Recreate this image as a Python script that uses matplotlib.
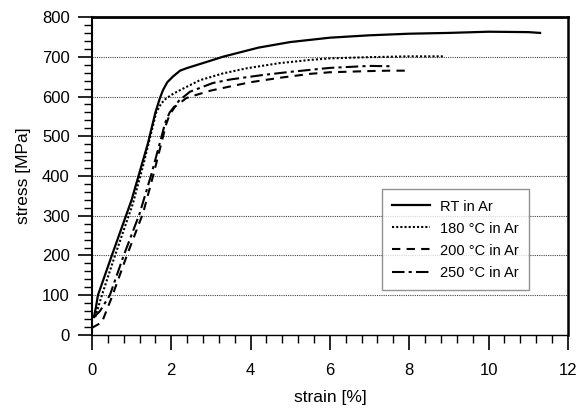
import matplotlib

matplotlib.use("Agg")
import matplotlib.pyplot as plt
from matplotlib.ticker import MultipleLocator

plt.rcParams["font.family"] = ["Liberation Sans", "DejaVu Sans"]

# stress-strain curves (strain in %, stress in MPa)
RT_STRAIN = [0.05, 0.1, 0.15, 0.5, 1.0, 1.41, 1.6, 1.71, 1.79, 1.9, 2.04, 2.22, 2.38,
             3.05, 3.3, 4.2, 5.0, 6.0, 7.0, 8.0, 9.0, 10.0, 11.0, 11.3]
RT_STRESS = [45, 70, 100, 200, 340, 482, 560, 595, 616, 636, 650, 665, 671,
             692, 700, 723, 737, 748, 754, 758, 760, 763, 762, 760]

T180_STRAIN = [0.08, 0.25, 0.58, 1.03, 1.3, 1.62, 1.75, 1.87, 2.05, 2.22, 2.72, 3.3,
               3.9, 4.73, 5.5, 6.0, 7.0, 8.0, 8.9]
T180_STRESS = [45, 100, 200, 330, 430, 560, 583, 595, 607, 616, 641, 658,
               671, 684, 692, 696, 699, 701, 701]

T200_STRAIN = [0.0, 0.25, 0.5, 0.88, 1.29, 1.54, 1.87, 1.96, 2.1, 2.38, 2.63, 3.0,
               3.47, 4.0, 4.73, 5.5, 6.0, 7.0, 7.5, 8.0]
T200_STRESS = [18, 32, 95, 200, 307, 400, 530, 555, 575, 596, 604, 615,
               625, 636, 647, 657, 661, 664, 665, 665]

T250_STRAIN = [0.05, 0.2, 0.45, 0.8, 1.2, 1.5, 1.85, 1.96, 2.2, 2.47, 3.05, 3.5,
               4.3, 5.0, 6.0, 7.0, 7.6]
T250_STRESS = [45, 60, 100, 200, 305, 405, 535, 560, 590, 612, 634, 643,
               654, 662, 672, 677, 676]

LABELS = ["RT in Ar", "180 °C in Ar", "200 °C in Ar", "250 °C in Ar"]

fig = plt.figure(figsize=(5.8, 4.11), dpi=100)
ax = fig.add_axes([0.1586, 0.185, 0.8204, 0.7736])

ax.plot(RT_STRAIN, RT_STRESS, color="black", lw=1.6, ls="-", label=LABELS[0])
ax.plot(T180_STRAIN, T180_STRESS, color="black", lw=1.5, ls=(0, (1, 1)), label=LABELS[1])
ax.plot(T200_STRAIN, T200_STRESS, color="black", lw=1.5, ls=(0, (4, 3)), label=LABELS[2])
ax.plot(T250_STRAIN, T250_STRESS, color="black", lw=1.5, ls=(0, (6, 2, 1.5, 2)),
        label=LABELS[3])

ax.set_xlim(0, 12)
ax.set_ylim(0, 800)
ax.xaxis.set_major_locator(MultipleLocator(2))
ax.xaxis.set_minor_locator(MultipleLocator(0.4))
ax.yaxis.set_major_locator(MultipleLocator(100))
ax.yaxis.set_minor_locator(MultipleLocator(20))

ax.yaxis.grid(True, which="major", color="#444444", lw=0.8, ls=(0, (1, 1)))
ax.set_axisbelow(True)

ax.tick_params(which="major", direction="out", length=10, width=1.2, labelsize=12,
               pad=6, colors="black")
ax.tick_params(which="minor", direction="out", length=6, width=1.0)
ax.tick_params(axis="x", which="major", length=11, pad=9)

for side, w in [("top", 2.0), ("right", 1.8), ("left", 1.5), ("bottom", 1.0)]:
    ax.spines[side].set_linewidth(w)

ax.set_xlabel("strain [%]", fontsize=12.5, labelpad=9)
ax.set_ylabel("stress [MPa]", fontsize=12.5, labelpad=8)

leg = ax.legend(loc="lower left", bbox_to_anchor=(0.609, 0.142), fontsize=10.5,
                frameon=True, fancybox=False, edgecolor="#777777",
                handlelength=2.6, labelspacing=0.55, borderpad=0.7,
                handletextpad=0.7, borderaxespad=0)
leg.get_frame().set_linewidth(1.0)

fig.savefig("out.png", dpi=100, facecolor="white")
